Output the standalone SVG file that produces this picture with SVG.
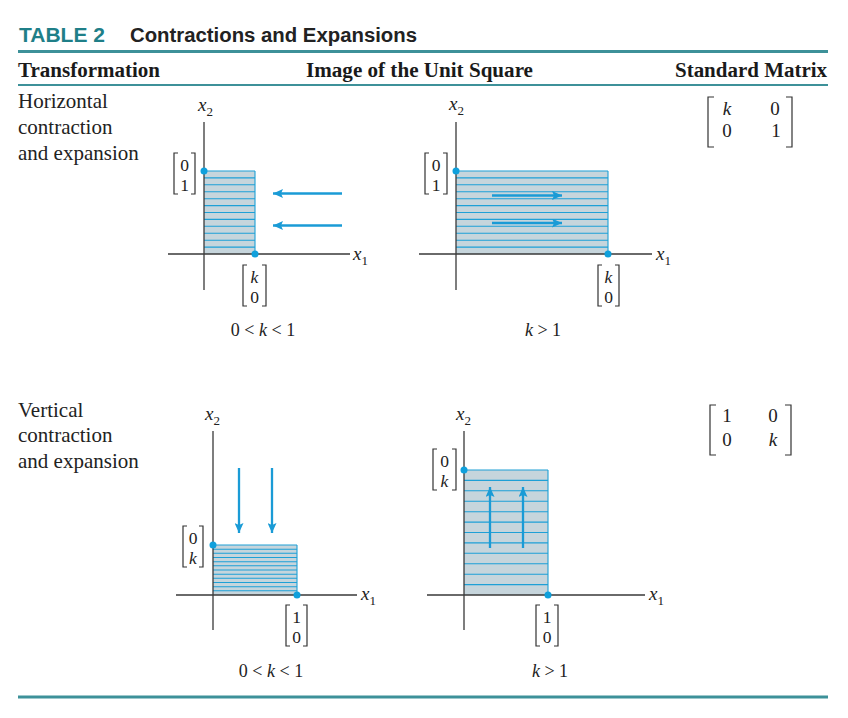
<svg xmlns="http://www.w3.org/2000/svg" width="848" height="718" viewBox="0 0 848 718">
<style>
.hd{font-family:"Liberation Sans",Arial,sans-serif;font-weight:bold}
.ser{font-family:"Liberation Serif","Times New Roman",serif;fill:#222}
.th{font-family:"Liberation Serif","Times New Roman",serif;font-weight:bold;font-size:20.5px;fill:#1a1a1a}
.lab{font-size:21px}
.ent{font-size:19px;text-anchor:middle}
.ve{font-size:17.5px;text-anchor:middle}
.cap{font-size:18px;text-anchor:middle}
.ax{font-size:19px}
.it{font-style:italic}
.rule{stroke:#3d9199;fill:none}
.axis{stroke:#3a3a3a;stroke-width:1.3;fill:none}
.sq{fill:#c6d5dc;stroke:none}
.stripe{stroke:#1ea0d6;stroke-width:1.1;fill:none}
.arr{stroke:#1a9bd6;stroke-width:2.3;fill:none;marker-end:url(#ah)}
.dot{fill:#0fa0dc}
.br{stroke:#333;stroke-width:1.2;fill:none}
</style>
<defs>
<marker id="ah" markerUnits="userSpaceOnUse" markerWidth="11" markerHeight="9" refX="10" refY="4.5" orient="auto" viewBox="0 0 11 9">
<path d="M0,0 L10,4.5 L0,9 L2,4.5 z" fill="#1a9bd6"/>
</marker>
</defs>
<rect width="848" height="718" fill="#fff"/>

<g id="header">
<text class="hd" x="19" y="42" font-size="21" fill="#1f7f88" textLength="86" lengthAdjust="spacingAndGlyphs">TABLE 2</text>
<text class="hd" x="130" y="42" font-size="20" fill="#222" textLength="287" lengthAdjust="spacingAndGlyphs">Contractions and Expansions</text>
<line class="rule" x1="18" y1="51.5" x2="828" y2="51.5" stroke-width="3"/>
<text class="th" x="18" y="76.5" textLength="142" lengthAdjust="spacingAndGlyphs">Transformation</text>
<text class="th" x="306" y="76.5" textLength="227" lengthAdjust="spacingAndGlyphs">Image of the Unit Square</text>
<text class="th" x="675" y="76.5" textLength="152" lengthAdjust="spacingAndGlyphs">Standard Matrix</text>
<line class="rule" x1="18" y1="85" x2="828" y2="85" stroke-width="2"/>
<line class="rule" x1="18" y1="697" x2="828" y2="697" stroke-width="3"/>
</g>

<g id="row-labels">
<text class="ser lab" x="18" y="108">Horizontal</text>
<text class="ser lab" x="18" y="134">contraction</text>
<text class="ser lab" x="18" y="159.5">and expansion</text>
<text class="ser lab" x="18" y="416.5">Vertical</text>
<text class="ser lab" x="18" y="442">contraction</text>
<text class="ser lab" x="18" y="467.5">and expansion</text>
</g>

<g id="plot-h-contract">
<rect class="sq" x="204" y="171" width="51" height="83"/>
<path class="stripe" d="M204,171H255M204,177.9H255M204,184.8H255M204,191.8H255M204,198.7H255M204,205.6H255M204,212.5H255M204,219.4H255M204,226.3H255M204,233.3H255M204,240.2H255M204,247.1H255M255,171V254"/>
<path class="axis" d="M204,122V290M168,254H350"/>
<circle class="dot" cx="204" cy="171" r="3.5"/>
<circle class="dot" cx="255" cy="254" r="3.5"/>
<text class="ser ax" x="198" y="111"><tspan class="it">x</tspan><tspan font-size="13" dy="5">2</tspan></text>
<text class="ser ax" x="353" y="260"><tspan class="it">x</tspan><tspan font-size="13" dy="5">1</tspan></text>
<path class="br" d="M178,153H174V194H178M191,153H195V194H191"/>
<text class="ser ve" x="184.5" y="171">0</text>
<text class="ser ve" x="184.5" y="190.5">1</text>
<path class="br" d="M247,265H243V306H247M262,265H266V306H262"/>
<text class="ser ve it" x="254.5" y="283">k</text>
<text class="ser ve" x="254.5" y="302.5">0</text>
<text class="ser cap" x="263" y="336">0 &lt; <tspan class="it">k</tspan> &lt; 1</text>
</g>

<g id="plot-h-expand">
<rect class="sq" x="456" y="171" width="152" height="83"/>
<path class="stripe" d="M456,171H608M456,177.9H608M456,184.8H608M456,191.8H608M456,198.7H608M456,205.6H608M456,212.5H608M456,219.4H608M456,226.3H608M456,233.3H608M456,240.2H608M456,247.1H608M608,171V254"/>
<path class="axis" d="M456,122V290M419,254H652"/>
<circle class="dot" cx="456" cy="171" r="3.5"/>
<circle class="dot" cx="608" cy="254" r="3.5"/>
<text class="ser ax" x="449" y="110"><tspan class="it">x</tspan><tspan font-size="13" dy="5">2</tspan></text>
<text class="ser ax" x="656" y="260"><tspan class="it">x</tspan><tspan font-size="13" dy="5">1</tspan></text>
<path class="br" d="M429,153H425V194H429M443,153H447V194H443"/>
<text class="ser ve" x="436" y="171">0</text>
<text class="ser ve" x="436" y="190.5">1</text>
<path class="br" d="M602,265H598V306H602M615,265H619V306H615"/>
<text class="ser ve it" x="608.5" y="283">k</text>
<text class="ser ve" x="608.5" y="302.5">0</text>
<text class="ser cap" x="543" y="336"><tspan class="it">k</tspan> &gt; 1</text>
</g>

<g id="plot-v-contract">
<rect class="sq" x="213" y="545" width="84" height="50"/>
<path class="stripe" d="M213,545H297M213,549.2H297M213,553.3H297M213,557.5H297M213,561.7H297M213,565.8H297M213,570H297M213,574.2H297M213,578.3H297M213,582.5H297M213,586.7H297M213,590.8H297M297,545V595"/>
<path class="axis" d="M213,431V630M176,595H357"/>
<circle class="dot" cx="213" cy="545" r="3.5"/>
<circle class="dot" cx="297" cy="595" r="3.5"/>
<text class="ser ax" x="205" y="420"><tspan class="it">x</tspan><tspan font-size="13" dy="5">2</tspan></text>
<text class="ser ax" x="361" y="600"><tspan class="it">x</tspan><tspan font-size="13" dy="5">1</tspan></text>
<path class="br" d="M187,526H183V567H187M199,526H203V567H199"/>
<text class="ser ve" x="193" y="544">0</text>
<text class="ser ve it" x="193" y="563.5">k</text>
<path class="br" d="M290,605H286V646H290M303,605H307V646H303"/>
<text class="ser ve" x="296.5" y="623">1</text>
<text class="ser ve" x="296.5" y="642.5">0</text>
<text class="ser cap" x="271" y="677">0 &lt; <tspan class="it">k</tspan> &lt; 1</text>
</g>

<g id="plot-v-expand">
<rect class="sq" x="464" y="470" width="84" height="125"/>
<path class="stripe" d="M464,470H548M464,480.4H548M464,490.8H548M464,501.3H548M464,511.7H548M464,522.1H548M464,532.5H548M464,542.9H548M464,553.3H548M464,563.8H548M464,574.2H548M464,584.6H548M548,470V595"/>
<path class="axis" d="M464,431V630M427,595H645"/>
<circle class="dot" cx="464" cy="470" r="3.5"/>
<circle class="dot" cx="548" cy="595" r="3.5"/>
<text class="ser ax" x="456" y="420"><tspan class="it">x</tspan><tspan font-size="13" dy="5">2</tspan></text>
<text class="ser ax" x="649" y="600"><tspan class="it">x</tspan><tspan font-size="13" dy="5">1</tspan></text>
<path class="br" d="M437,449H433V490H437M452,449H456V490H452"/>
<text class="ser ve" x="444.5" y="467">0</text>
<text class="ser ve it" x="444.5" y="486.5">k</text>
<path class="br" d="M540,605H536V646H540M554,605H558V646H554"/>
<text class="ser ve" x="547" y="623">1</text>
<text class="ser ve" x="547" y="642.5">0</text>
<text class="ser cap" x="550" y="677"><tspan class="it">k</tspan> &gt; 1</text>
</g>

<g id="connectors">
<line class="arr" x1="342" y1="193.5" x2="273" y2="193.5"/>
<line class="arr" x1="342" y1="225.5" x2="273" y2="225.5"/>
<line class="arr" x1="492" y1="195.5" x2="562" y2="195.5"/>
<line class="arr" x1="492" y1="223" x2="562" y2="223"/>
<line class="arr" x1="239" y1="468" x2="239" y2="533"/>
<line class="arr" x1="272" y1="468" x2="272" y2="533"/>
<line class="arr" x1="490" y1="548" x2="490" y2="487"/>
<line class="arr" x1="523" y1="548" x2="523" y2="487"/>
</g>

<g id="matrix-horizontal">
<path class="br" d="M714,97H708V147H714M786,97H792V147H786"/>
<text class="ser ent it" x="727" y="115">k</text>
<text class="ser ent" x="775" y="115">0</text>
<text class="ser ent" x="727" y="137">0</text>
<text class="ser ent" x="776" y="137">1</text>
</g>

<g id="matrix-vertical">
<path class="br" d="M716,405H710V455H716M785,405H791V455H785"/>
<text class="ser ent" x="727" y="422">1</text>
<text class="ser ent" x="773" y="422">0</text>
<text class="ser ent" x="727" y="446">0</text>
<text class="ser ent it" x="773" y="446">k</text>
</g>
</svg>
